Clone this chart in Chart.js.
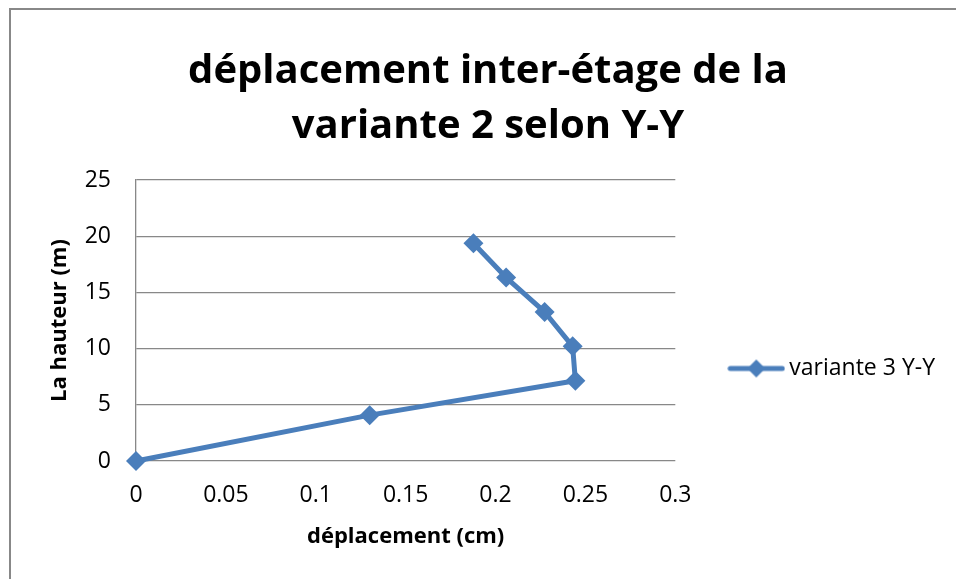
<!DOCTYPE html>
<html>
<head>
<meta charset="utf-8">
<title>déplacement inter-étage</title>
<script src="https://cdn.jsdelivr.net/npm/chart.js@4.4.1/dist/chart.umd.min.js"></script>
<style>
    html, body { margin: 0; padding: 0; background: #ffffff; overflow: hidden; }
    /* grey frame round the chart, only its left and top edges show */
    #frame {
        position: absolute; left: 9px; top: 8px;
        width: 1000px; height: 1000px;
        border-left: 2px solid #888888;
        border-top: 2px solid #888888;
    }
    #chart { position: absolute; left: 0; top: 0; }
</style>
</head>
<body>
<div id="frame"></div>
<canvas id="chart" width="956" height="579"></canvas>
<script>
//-----------------------------------------------------------------------------
// data: storey heights (m) and inter-storey drift (cm)
//-----------------------------------------------------------------------------
const heights     = [0, 4.08, 7.14, 10.2, 13.26, 16.32, 19.38];
const drift       = [0, 0.130, 0.2444, 0.2429, 0.2273, 0.2059, 0.1877];
const seriesLabel = 'variante 3 Y-Y';

const xTicks = [0, 0.05, 0.1, 0.15, 0.2, 0.25, 0.3];
const yTicks = [0, 5, 10, 15, 20, 25];

const lineColor = '#4a7ebb';
const gridColor = '#888888';

Chart.defaults.font.family = "'Open Sans', sans-serif";
Chart.defaults.color = '#000000';

//-----------------------------------------------------------------------------
// legend symbol: short line with a diamond in the middle
//-----------------------------------------------------------------------------
function makeLegendSymbol() {
    const c = document.createElement('canvas');
    c.width = 58;
    c.height = 22;
    const g = c.getContext('2d');
    g.strokeStyle = lineColor;
    g.lineWidth = 5;
    g.lineCap = 'round';
    g.beginPath();
    g.moveTo(3, 11);
    g.lineTo(55, 11);
    g.stroke();
    g.fillStyle = lineColor;
    g.beginPath();
    g.moveTo(29, 2);
    g.lineTo(38, 11);
    g.lineTo(29, 20);
    g.lineTo(20, 11);
    g.closePath();
    g.fill();
    return c;
}

const points = drift.map((d, i) => ({ x: d, y: heights[i] }));

const ctx = document.getElementById('chart').getContext('2d');
new Chart(ctx, {
    type: 'scatter',
    data: {
        datasets: [
            {
                label: seriesLabel,
                data: points,
                showLine: true,
                clip: false,
                borderColor: lineColor,
                backgroundColor: lineColor,
                borderWidth: 5,
                borderJoinStyle: 'round',
                borderCapStyle: 'round',
                pointStyle: 'rectRot',
                pointRadius: 10,
                pointBorderWidth: 0,
                pointBackgroundColor: lineColor
            }
        ]
    },

    options: {
        responsive: false,
        animation: false,
        layout: {
            padding: { left: 31, right: 11, top: 0, bottom: 0 }
        },

        plugins: {
            title: {
                display: true,
                text: ['déplacement inter-étage de la', 'variante 2 selon Y-Y'],
                font: { size: 40, weight: 'bold', lineHeight: 1.38 },
                color: '#000000',
                padding: { top: 44, bottom: 25.6 }
            },

            legend: {
                display: true,
                position: 'right',
                align: 'center',
                fullSize: false,
                maxWidth: 320,
                // empty title only pushes the entry down a little
                title: { display: true, text: '', padding: { top: 81.6, bottom: 0 } },
                labels: {
                    usePointStyle: true,
                    pointStyle: makeLegendSymbol(),
                    pointStyleWidth: 43,
                    padding: 59.5,
                    color: '#000000',
                    font: { size: 23 }
                }
            },

            tooltip: { enabled: false }
        },

        scales: {
            x: {
                type: 'linear',
                min: 0,
                max: 0.3,
                afterBuildTicks: scale => { scale.ticks = xTicks.map(v => ({ value: v })); },
                afterFit: scale => { scale.height = 118; },
                grid: { display: false, drawTicks: false },
                border: { display: false },
                ticks: {
                    padding: 21,
                    font: { size: 23 },
                    color: '#000000',
                    callback: value => `${value}`
                },
                title: {
                    display: true,
                    text: 'déplacement (cm)',
                    font: { size: 22, weight: 'bold' },
                    color: '#000000',
                    padding: { top: 0, bottom: 28.8 }
                }
            },

            y: {
                type: 'linear',
                min: 0,
                max: 25,
                afterBuildTicks: scale => { scale.ticks = yTicks.map(v => ({ value: v })); },
                afterFit: scale => { scale.width = 105; },
                grid: { color: gridColor, lineWidth: 1.3, drawTicks: false },
                border: { display: true, color: gridColor, width: 1.3 },
                ticks: {
                    padding: 25,
                    font: { size: 23 },
                    color: '#000000'
                },
                title: {
                    display: true,
                    text: 'La hauteur (m)',
                    font: { size: 22, weight: 'bold' },
                    color: '#000000',
                    padding: { top: 15.8, bottom: 0 }
                }
            }
        }
    }
});
</script>
</body>
</html>
